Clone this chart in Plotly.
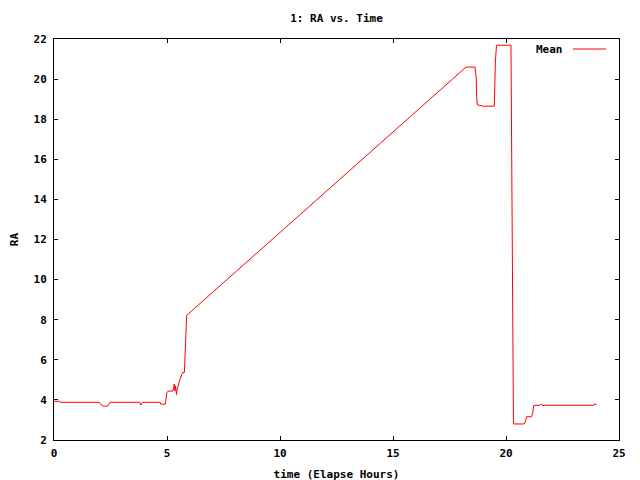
import plotly.graph_objects as go

time_hours = [0.0, 0.25, 0.27, 2.0, 2.1, 2.17, 2.37, 2.48, 3.8, 3.84, 3.92, 4.7, 4.72, 4.92, 5.0, 5.05,
              5.25, 5.3, 5.32, 5.35, 5.38, 5.42, 5.45, 5.5, 5.55, 5.62, 5.69, 5.77, 5.79, 5.84, 5.87,
              10.0, 15.0, 18.23, 18.63, 18.68, 18.7, 18.73, 18.99, 19.48, 19.5, 19.53, 19.58, 20.22,
              20.33, 20.81, 20.88, 20.91, 21.13, 21.18, 21.23, 21.5, 21.52, 21.58, 21.6, 23.87, 23.88, 24.0]
ra_mean = [3.93, 3.93, 3.88, 3.88, 3.74, 3.69, 3.69, 3.88, 3.88, 3.74, 3.88, 3.88, 3.79, 3.79, 4.37, 4.44,
           4.44, 4.6, 4.79, 4.45, 4.7, 4.27, 4.55, 4.69, 4.95, 5.18, 5.37, 5.37, 6.06, 7.47, 8.22,
           12.35, 17.37, 20.6, 20.6, 20.07, 19.16, 18.72, 18.65, 18.65, 19.4, 20.9, 21.69, 21.69,
           2.8, 2.8, 3.0, 3.16, 3.16, 3.33, 3.73, 3.73, 3.78, 3.78, 3.73, 3.73, 3.78, 3.78]

x_ticks = [0, 5, 10, 15, 20, 25]
y_ticks = [2, 4, 6, 8, 10, 12, 14, 16, 18, 20, 22]
series_name = "Mean"

FONT = dict(family="DejaVu Sans Mono", size=11, color="black", weight="bold")

fig = go.Figure()
fig.add_trace(go.Scatter(x=time_hours, y=ra_mean, mode="lines", name=series_name,
                         line=dict(color="#ff0000", width=1), showlegend=False))

axis_common = dict(showgrid=False, zeroline=False, showline=True, linecolor="black", linewidth=1,
                   mirror="allticks", ticks="inside", ticklen=4, tickcolor="black", tickwidth=1,
                   tickfont=FONT, automargin=False)

# the page body adds an 8px offset, margins compensate for it
fig.update_layout(
    width=640, height=480,
    margin=dict(l=46, r=29, t=31, b=48, autoexpand=False),
    paper_bgcolor="white", plot_bgcolor="white",
    title=dict(text="1: RA vs. Time", font=FONT, x=0.5, xref="paper", xanchor="center",
               y=1 - 10 / 480, yref="container", yanchor="middle", automargin=False),
    xaxis=dict(range=[0, 25], tickvals=x_ticks, ticktext=[str(v) for v in x_ticks],
               ticklabelstandoff=3,
               title=dict(text="time (Elapse Hours)", font=FONT, standoff=11), **axis_common),
    yaxis=dict(range=[2, 22], tickvals=y_ticks, ticktext=[str(v) for v in y_ticks],
               ticklabelstandoff=4,
               title=dict(text="RA", font=FONT, standoff=12), **axis_common),
    showlegend=False,
)

# gnuplot-style key: text then line sample
fig.add_annotation(text=series_name, xref="paper", yref="paper", x=(565 - 54) / 565, y=1 - 10 / 401,
                   xanchor="right", yanchor="middle", showarrow=False, font=FONT)
fig.add_shape(type="line", xref="paper", yref="paper", x0=(573 - 54) / 565, x1=(606 - 54) / 565,
              y0=1 - 10 / 401, y1=1 - 10 / 401, line=dict(color="#ff0000", width=1))

fig.write_html("out.html")
